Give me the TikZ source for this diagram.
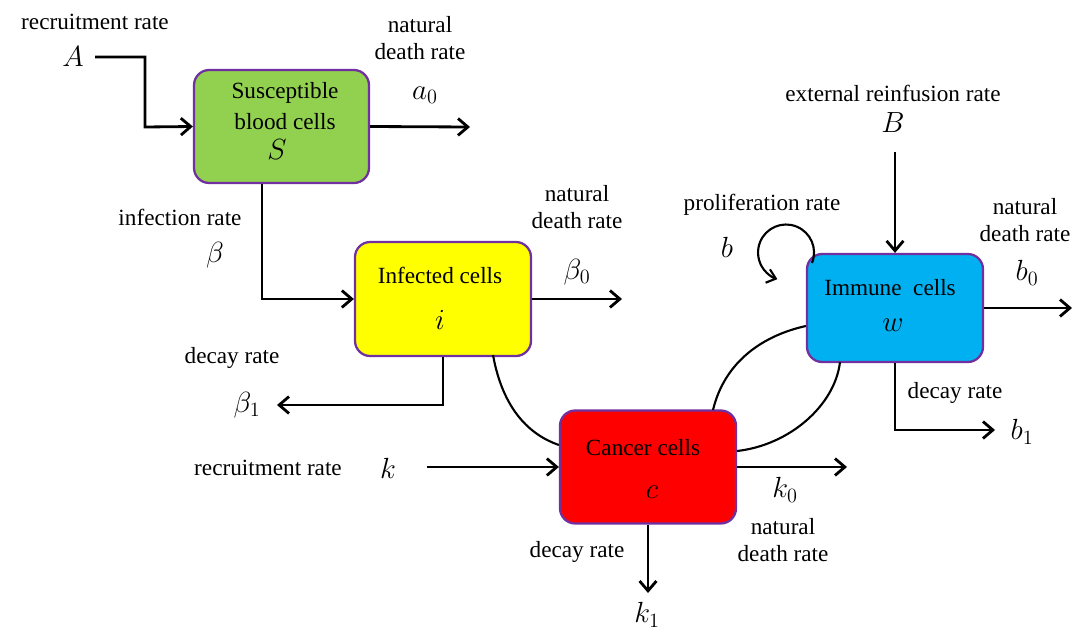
\documentclass[tikz,border=0pt]{standalone}
\usepackage{fontspec}
\setmainfont{Liberation Serif}
\usetikzlibrary{arrows.meta}
\definecolor{sgreen}{HTML}{92D050}
\definecolor{iyellow}{HTML}{FFFF00}
\definecolor{wblue}{HTML}{00B0F0}
\definecolor{cred}{HTML}{FF0000}
\definecolor{bpurple}{HTML}{7030A0}
\tikzset{
  cellbox/.style={draw=bpurple, line width=1.6pt, rounded corners=0.38cm, inner sep=0pt},
  txt/.style={font=\fontsize{16.5}{19}\selectfont, inner sep=0pt, align=center},
  sym/.style={font=\fontsize{21}{24}\selectfont, inner sep=0pt},
  flow/.style={line width=2pt, -{Straight Barb[length=7pt,width=12pt,line width=2pt]}},
  link/.style={line width=1.5pt},
}
\begin{document}
\begin{tikzpicture}[x=0.025cm,y=-0.025cm]
\useasboundingbox (0,0) rectangle (1073,631);
% boxes
\node[cellbox, fill=sgreen, minimum width=175*0.025cm, minimum height=113*0.025cm] (S) at (281.5,126.5) {};
\node[cellbox, fill=iyellow, minimum width=176*0.025cm, minimum height=114*0.025cm] (I) at (443,299) {};
\node[cellbox, fill=wblue, minimum width=176*0.025cm, minimum height=108*0.025cm] (W) at (895,308) {};
\node[cellbox, fill=cred, minimum width=176*0.025cm, minimum height=113*0.025cm] (C) at (648,467) {};
% box texts
\node[txt] (St1) at (285,93) {Susceptible};
\node[txt] (St2) at (285,122) {blood cells};
\node[sym] (Ssym) at (277,150) {$S$};
\node[txt] (It) at (440,275) {Infected cells};
\node[sym] (Isym) at (440,320) {$i$};
\node[txt] (Wt) at (890,288) {Immune\ \ cells};
\node[sym] (Wsym) at (893,325) {$w$};
\node[txt] (Ct) at (643,448) {Cancer cells};
\node[sym] (Csym) at (652,492) {$c$};
% labels
\node[txt] (Arate) at (95,22) {recruitment\ rate};
\node[sym] (Alab) at (73,57) {$A$};
\node[txt] (Snat) at (420,38) {natural\\death rate};
\node[sym] (a0) at (425,95) {$a_0$};
\node[txt] (inf) at (180,217) {infection rate};
\node[sym] (beta) at (215,255) {$\beta$};
\node[txt] (Inat) at (577,207) {natural\\death rate};
\node[sym] (beta0) at (577,272) {$\beta_0$};
\node[txt] (Idec) at (232,358) {decay rate};
\node[sym] (beta1) at (247,405) {$\beta_1$};
\node[txt] (krate) at (268,468) {recruitment rate};
\node[sym] (klab) at (388,468) {$k$};
\node[txt] (Cdec) at (577,552) {decay rate};
\node[sym] (k1) at (647,615) {$k_1$};
\node[txt] (Cnat) at (783,540) {natural\\death rate};
\node[sym] (k0) at (785,490) {$k_0$};
\node[txt] (ext) at (893,93) {external reinfusion rate};
\node[sym] (Blab) at (893,123) {$B$};
\node[txt] (prol) at (762,205) {proliferation rate};
\node[sym] (blab) at (727,247) {$b$};
\node[txt] (Wnat) at (1025,220) {natural\\death rate};
\node[sym] (b0) at (1027,273) {$b_0$};
\node[txt] (Wdec) at (955,393) {decay rate};
\node[sym] (b1) at (1022,432) {$b_1$};
% coordinates
\coordinate (aStart) at (95,57);
\coordinate (aBend) at (145,127);
\coordinate (aEnd) at (470,127);
\coordinate (sBend) at (262,299);
\coordinate (iEnd) at (622,299);
\coordinate (beta1End) at (277,405);
\coordinate (kStart) at (427,467);
\coordinate (kEnd) at (847,467);
\coordinate (k1End) at (648,593);
\coordinate (bStart) at (895,152);
\coordinate (wEnd) at (1072,308);
\coordinate (b1End) at (995,430);
\coordinate (loopStart) at (812,263);
% flows
\draw[flow] (aStart) -| (aBend) -- (S.west);
\draw[flow] (S.east) -- (aEnd);
\draw[flow] (S.south -| sBend) -- (sBend) -- (I.west);
\draw[flow] (I.east) -- (iEnd);
\draw[flow] (I.south) |- (beta1End);
\draw[flow] (kStart) -- (C.west);
\draw[flow] (C.east) -- (kEnd);
\draw[flow] (C.south) -- (k1End);
\draw[flow] (bStart) -- (W.north);
\draw[flow] (W.east) -- (wEnd);
\draw[flow] (W.south) |- (b1End);
% proliferation loop
\draw[line width=1.5pt, -{Straight Barb[length=6pt,width=10pt,line width=1.5pt]}] (loopStart) arc[start angle=22, end angle=-252, radius=28];
% interaction curves
\draw[link] (493,355) .. controls (503,410) and (530,435) .. (C.west |- 0,445);
\draw[link] (713,410) .. controls (725,360) and (765,335) .. (W.west |- 0,326);
\draw[link] (C.east |- 0,451) .. controls (790,445) and (835,405) .. (840,362);
\end{tikzpicture}
\end{document}
